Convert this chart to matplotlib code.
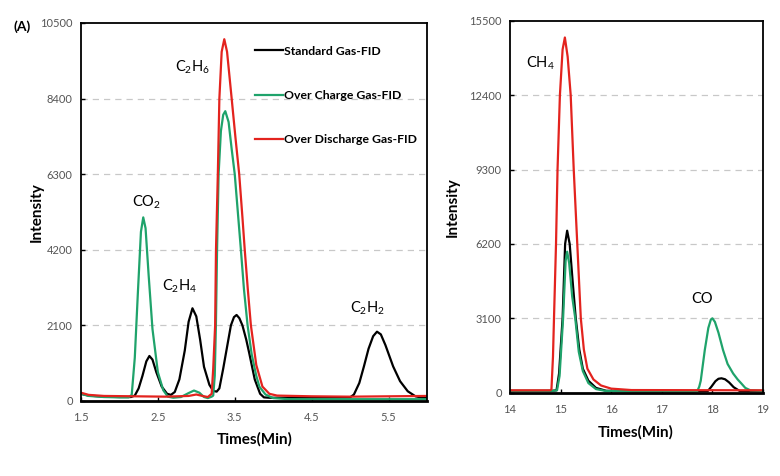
#GC-FID chromatograms of the three gas samples (two panels)

import numpy as np
import matplotlib
matplotlib.use('Agg')
import matplotlib.pyplot as plt

plt.rcParams['font.family'] = ['Lato', 'DejaVu Sans']
plt.rcParams['mathtext.fontset'] = 'custom'
plt.rcParams['mathtext.rm'] = 'Lato'
plt.rcParams['mathtext.default'] = 'regular'

# --- left panel: C2 hydrocarbons + CO2 ---
std_left_t = [1.5, 1.6, 1.8, 2.0, 2.15, 2.2, 2.25, 2.3, 2.35, 2.39, 2.43, 2.48, 2.55, 2.62, 2.67,
              2.72, 2.78, 2.85, 2.9, 2.95, 3.0, 3.05, 3.1, 3.17, 3.22, 3.265, 3.3, 3.35, 3.386,
              3.45, 3.49, 3.524, 3.56, 3.6, 3.65, 3.688, 3.76, 3.83, 3.88, 3.95, 4.5, 5.0, 5.05,
              5.12, 5.18, 5.24, 5.3, 5.35, 5.4, 5.46, 5.56, 5.65, 5.75, 5.85, 5.93, 6.0]
std_left_y = [200, 150, 120, 110, 110, 150, 350, 700, 1100, 1250, 1150, 800, 400, 200, 170,
              250, 600, 1400, 2200, 2575, 2350, 1700, 950, 450, 280, 260, 350, 900, 1333,
              2100, 2330, 2389, 2300, 2100, 1700, 1333, 600, 200, 100, 90, 90, 100, 180,
              500, 960, 1450, 1800, 1925, 1850, 1550, 960, 550, 270, 130, 95, 90]

chg_left_t = [1.5, 1.6, 1.8, 2.0, 2.12, 2.16, 2.2, 2.24, 2.28, 2.31, 2.34, 2.38, 2.43, 2.5, 2.57,
              2.63, 2.7, 2.8, 2.9, 2.97, 3.04, 3.1, 3.15, 3.2, 3.22, 3.24, 3.255, 3.27, 3.29,
              3.32, 3.35, 3.377, 3.42, 3.46, 3.5, 3.54, 3.58, 3.62, 3.667, 3.72, 3.78, 3.82,
              3.9, 4.0, 4.2, 6.0]
chg_left_y = [200, 140, 110, 100, 100, 170, 1200, 3000, 4700, 5100, 4800, 3500, 2000, 800, 300,
              120, 90, 110, 220, 290, 230, 110, 80, 120, 150, 700, 2100, 4200, 6300,
              7500, 7950, 8050, 7750, 7000, 6300, 5250, 4200, 3100, 2100, 1300, 700, 400,
              180, 80, 50, 50]

dis_left_t = [1.5, 1.6, 1.8, 2.2, 2.6, 2.9, 3.0, 3.08, 3.15, 3.2, 3.22, 3.245, 3.256, 3.28, 3.3,
              3.33, 3.364, 3.4, 3.46, 3.51, 3.558, 3.6, 3.63, 3.67, 3.71, 3.78, 3.86, 3.95,
              4.05, 4.5, 5.0, 5.5, 6.0]
dis_left_y = [230, 170, 140, 130, 120, 140, 180, 140, 110, 200, 900, 2100, 4200, 6300, 8400,
              9700, 10050, 9700, 8400, 7300, 6300, 5100, 4200, 3100, 2100, 1000, 400, 200,
              150, 130, 120, 130, 140]

# --- right panel: CH4 + CO ---
std_right_t = [14.0, 14.8, 14.92, 14.97, 15.04, 15.09, 15.13, 15.18, 15.24, 15.3, 15.37, 15.44,
               15.55, 15.7, 15.9, 16.5, 17.5, 17.91, 17.98, 18.06, 18.12, 18.18, 18.25, 18.33,
               18.42, 18.54, 19.0]
std_right_y = [70, 70, 100, 800, 3100, 6200, 6750, 6200, 4600, 3100, 1800, 1000,
               500, 200, 80, 60, 60, 70, 250, 480, 580, 600, 560, 430, 230, 70, 60]

chg_right_t = [14.0, 14.85, 14.93, 14.98, 15.05, 15.1, 15.13, 15.17, 15.23, 15.29, 15.36, 15.44,
               15.55, 15.7, 15.9, 17.5, 17.7, 17.74, 17.77, 17.82, 17.85, 17.92, 17.97, 18.0,
               18.05, 18.12, 18.21, 18.3, 18.41, 18.5, 18.57, 18.65, 18.75, 19.0]
chg_right_y = [80, 80, 100, 700, 3100, 5500, 5875, 5400, 4000, 3100, 1700, 900,
               400, 150, 70, 60, 60, 250, 500, 1300, 1780, 2700, 3050, 3100,
               2950, 2500, 1780, 1200, 800, 550, 390, 200, 100, 80]

dis_right_t = [14.0, 14.8, 14.82, 14.85, 14.87, 14.91, 14.94, 14.987, 15.04, 15.085, 15.14, 15.2,
               15.26, 15.33, 15.4, 15.46, 15.53, 15.65, 15.8, 16.0, 16.4, 19.0]
dis_right_y = [100, 100, 150, 1500, 3100, 6200, 9300, 12400, 14300, 14800, 14000, 12400,
               9300, 6200, 3100, 1800, 1000, 550, 300, 170, 110, 100]

left_yticks = [0, 2100, 4200, 6300, 8400, 10500]
left_xticks = [1.5, 2.5, 3.5, 4.5, 5.5]
right_yticks = [0, 3100, 6200, 9300, 12400, 15500]
right_xticks = [14, 15, 16, 17, 18, 19]

labels = ['Standard Gas-FID', 'Over Charge Gas-FID', 'Over Discharge Gas-FID']
colors = ['#000000', '#1fa36b', '#e3231e']

fig = plt.figure(figsize=(7.8, 4.76), dpi=100)
ax1 = fig.add_axes([0.1038, 0.1576, 0.4436, 0.7941])
ax2 = fig.add_axes([0.6538, 0.1750, 0.3244, 0.7815])


def style_axis(ax, xticks, yticks):
    ax.set_xticks(xticks)
    ax.set_yticks(yticks)
    ax.set_ylim(yticks[0], yticks[-1])
    ax.tick_params(direction='in', length=3, width=1, labelsize=8, labelcolor='#555555',
                   colors='#000000', pad=6)
    ax.tick_params(axis='x', pad=8)
    for side in ax.spines.values():
        side.set_linewidth(1.3)
    ax.spines['bottom'].set_linewidth(2)
    # light dashed gridlines only in between
    for yv in yticks[1:-1]:
        ax.axhline(yv, color='#c8c8c8', linestyle=(0, (5, 4)), linewidth=0.9, zorder=0)
    ax.set_xlabel('Times(Min)', fontsize=11, fontweight='bold')
    ax.set_ylabel('Intensity', fontsize=11, fontweight='bold')


left_series = [(std_left_t, std_left_y), (chg_left_t, chg_left_y), (dis_left_t, dis_left_y)]
for (t, y), c, lab in zip(left_series, colors, labels):
    ax1.plot(t, y, color=c, linewidth=1.6, label=lab)
ax1.set_xlim(1.5, 6.0)
style_axis(ax1, left_xticks, left_yticks)
ax1.yaxis.set_label_coords(-0.107, 0.5)
ax1.xaxis.set_label_coords(0.503, -0.082)

right_series = [(std_right_t, std_right_y), (chg_right_t, chg_right_y), (dis_right_t, dis_right_y)]
for (t, y), c in zip(right_series, colors):
    ax2.plot(t, y, color=c, linewidth=1.6)
ax2.set_xlim(14, 19)
style_axis(ax2, right_xticks, right_yticks)
ax2.yaxis.set_label_coords(-0.198, 0.5)
ax2.xaxis.set_label_coords(0.498, -0.087)

# legend sits inside the left panel
ax1.legend(loc='upper left', bbox_to_anchor=(0.503, 0.94), frameon=False,
           handlelength=2.3, handletextpad=0.1, labelspacing=2.72, borderpad=0,
           borderaxespad=0, prop={'weight': 'bold', 'size': 8.8})

# peak labels
ax1.text(2.354, 5528, 'CO$_2$', fontsize=10.5, ha='center', va='center')
ax1.text(2.95, 9278, 'C$_2$H$_6$', fontsize=10.5, ha='center', va='center')
ax1.text(2.78, 3195, 'C$_2$H$_4$', fontsize=10.5, ha='center', va='center')
ax1.text(5.23, 2583, 'C$_2$H$_2$', fontsize=10.5, ha='center', va='center')
ax2.text(14.61, 13738, 'CH$_4$', fontsize=10.5, ha='center', va='center')
ax2.text(17.79, 3904, 'CO', fontsize=10.5, ha='center', va='center')

fig.text(22 / 780, 1 - 27 / 476, '(A)', fontsize=10, fontweight='bold', ha='center', va='center')

fig.savefig('out.png', dpi=100)
